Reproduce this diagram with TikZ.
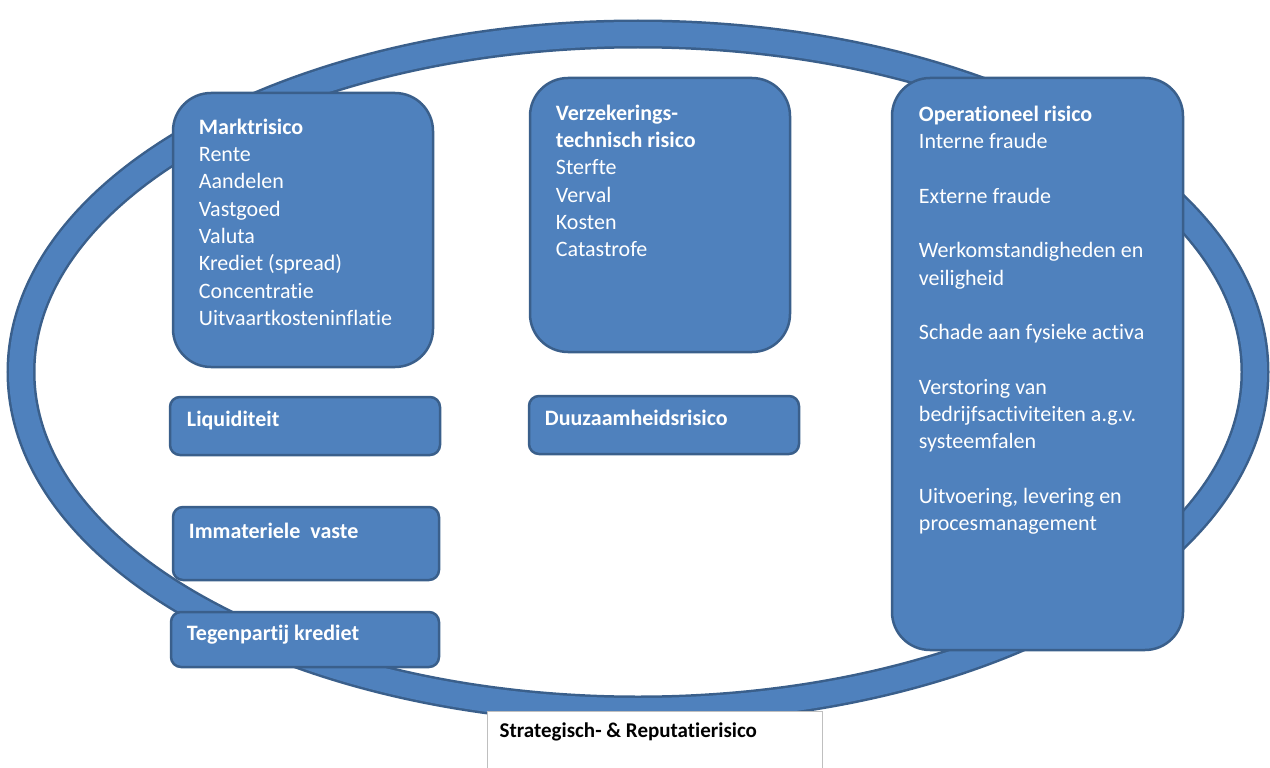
\documentclass[tikz,border=0pt]{standalone}
\usepackage{fontspec}
\setmainfont[Ligatures=NoCommon]{Carlito}
\usetikzlibrary{positioning}
\definecolor{riskblue}{HTML}{4F81BD}
\definecolor{riskedge}{HTML}{3A5F8B}
\definecolor{stratedge}{HTML}{BFBFBF}

\begin{document}
\begin{tikzpicture}[x=1pt,y=-1pt]
\tikzstyle{bigblock} = [rectangle, draw=riskedge, line width=2.5pt, fill=riskblue,
inner sep=0pt, rounded corners=38pt]
\tikzstyle{smallblock} = [rectangle, draw=riskedge, line width=2.5pt, fill=riskblue,
inner sep=0pt, rounded corners=10pt]
\tikzstyle{boxtext} = [inner sep=0pt, text=white, align=left,
font=\fontsize{22}{27.3}\selectfont]
\tikzstyle{smalltext} = [inner sep=0pt, text=white, font=\fontsize{22}{27.3}\selectfont\bfseries]
\clip (0,0) rectangle (1270,768);
% ring
\draw[riskedge, line width=29pt] (638,372) ellipse [x radius=617pt, y radius=338pt];
\draw[riskblue, line width=24pt] (638,372) ellipse [x radius=617pt, y radius=338pt];
% big boxes
\node [bigblock, minimum width=260pt, minimum height=274pt] (markt) at (303,230) {};
\node [bigblock, minimum width=260pt, minimum height=274pt] (verz) at (660,215) {};
\node [bigblock, minimum width=291pt, minimum height=572pt] (oper) at (1037.5,364) {};
% small boxes
\node [smallblock, minimum width=270pt, minimum height=58pt] (liq) at (305,426) {};
\node [smallblock, minimum width=270pt, minimum height=58pt] (duurz) at (664,425) {};
\node [smallblock, minimum width=266pt, minimum height=73pt] (immat) at (306,543.5) {};
\node [smallblock, minimum width=268pt, minimum height=55pt] (tegen) at (305,639.5) {};
\node [rectangle, draw=stratedge, line width=1pt, fill=white, inner sep=0pt,
minimum width=335pt, minimum height=70pt] (strat) at (654.5,746) {};
% texts
\node [boxtext, below right=27pt and 27pt of markt.north west] (markttxt)
{\textbf{Marktrisico}\\Rente\\Aandelen\\Vastgoed\\Valuta\\Krediet (spread)\\Concentratie\\Uitvaartkosteninflatie};
\node [boxtext, below right=28pt and 27pt of verz.north west] (verztxt)
{\textbf{Verzekerings-}\\\textbf{technisch risico}\\Sterfte\\Verval\\Kosten\\Catastrofe};
\node [boxtext, below right=29pt and 28pt of oper.north west] (opertxt)
{\textbf{Operationeel risico}\\Interne fraude\\[27.3pt]Externe fraude\\[27.3pt]Werkomstandigheden en\\veiligheid\\[27.3pt]Schade aan fysieke activa\\[27.3pt]Verstoring van\\bedrijfsactiviteiten a.g.v.\\systeemfalen\\[27.3pt]Uitvoering, levering en\\procesmanagement};
\node [smalltext, below right=15pt and 18pt of liq.north west] (liqtxt) {Liquiditeit};
\node [smalltext, below right=15pt and 17pt of duurz.north west] (duurztxt) {Duuzaamheidsrisico};
\node [smalltext, below right=17pt and 17pt of immat.north west] (immattxt) {Immateriele\ \ vaste};
\node [smalltext, below right=14pt and 17pt of tegen.north west] (tegentxt) {Tegenpartij krediet};
\node [inner sep=0pt, font=\fontsize{21}{25}\selectfont\bfseries, below right=12pt and 13pt of strat.north west] (strattxt) {Strategisch- \& Reputatierisico};
\end{tikzpicture}
\end{document}
